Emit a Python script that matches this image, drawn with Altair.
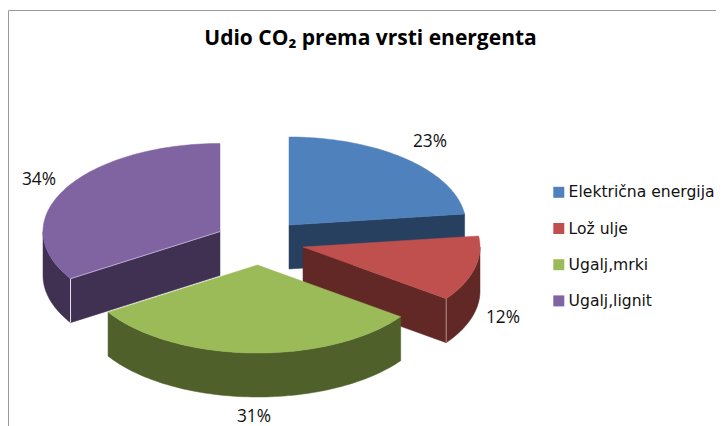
import math
import altair as alt
import pandas as pd

# ---- values ----
categories = ["Električna energija", "Lož ulje", "Ugalj,mrki", "Ugalj,lignit"]
shares = [23, 12, 31, 34]
title_text = "Udio CO₂ prema vrsti energenta"

# ---- styling / layout ----
top_colors = ["#4F81BD", "#C0504D", "#9BBB59", "#8064A2"]
side_colors = ["#27405F", "#622826", "#4F602B", "#403152"]
apexes = [(289, 225), (303, 247), (257.5, 265), (220, 231.5)]
label_pos = [(430, 142), (503, 318), (254, 417), (39, 180)]
RX, RY, DEPTH = 177, 88, 44
FONT = "Open Sans"
LEGEND_FONT = "DejaVu Sans"
W, H = 708, 418


def pt(c, deg, dz=0):
    a = math.radians(deg)
    return c[0] + RX * math.sin(a), c[1] - RY * math.cos(a) + dz


def arc(c, a0, a1, dz=0):
    n = max(2, int(abs(a1 - a0) / 1.5))
    return [pt(c, a0 + (a1 - a0) * k / n, dz) for k in range(n + 1)]


def frame(points):
    return pd.DataFrame([{"x": p[0], "y": p[1], "i": k} for k, p in enumerate(points)])


xs = alt.X("x:Q", axis=None, scale=alt.Scale(domain=[8, 8 + W], nice=False, zero=False))
ys = alt.Y("y:Q", axis=None, scale=alt.Scale(domain=[8 + H, 8], nice=False, zero=False))
fill_scale = alt.Scale(domain=categories, range=top_colors)
legend = alt.Legend(
    title=None, orient="none", legendX=543, legendY=176.5, symbolType="square",
    symbolSize=121, symbolStrokeWidth=0, labelFont=LEGEND_FONT, labelFontSize=15.6,
    labelColor="#111111", labelOffset=2, rowPadding=19.2, labelLimit=0,
)


def poly(points, color):
    return alt.Chart(frame(points)).mark_line(
        fill=color, stroke=color, strokeWidth=0.5, interpolate="linear", clip=True
    ).encode(x=xs, y=ys, order="i:Q")


def top(points, cat, color):
    d = frame(points)
    d["category"] = cat
    return alt.Chart(d).mark_line(
        stroke=color, strokeWidth=0.5, interpolate="linear", clip=True
    ).encode(x=xs, y=ys, order="i:Q",
             fill=alt.Fill("category:N", scale=fill_scale, legend=legend))


def edge(points, color):
    return alt.Chart(frame(points)).mark_line(
        stroke=color, strokeWidth=1, interpolate="linear"
    ).encode(x=xs, y=ys, order="i:Q")


# cumulative angles from the shares, clockwise from 12 o'clock
bounds = [0]
for s in shares:
    bounds.append(bounds[-1] + s * 3.6)

layers = []
# frame of the chart area
layers.append(edge([(8.5, 10.5), (724, 10.5)], "#9a9a9a"))
layers.append(edge([(8.5, 10.5), (8.5, 426)], "#9a9a9a"))

for idx in [0, 3, 1, 2]:  # back to front
    c = apexes[idx]
    a0, a1 = bounds[idx], bounds[idx + 1]
    # radial cut face that looks towards the viewer
    if idx in (0, 1):
        e = pt(c, a1)
        layers.append(poly([c, e, (e[0], e[1] + DEPTH), (c[0], c[1] + DEPTH), c], side_colors[idx]))
    if idx == 3:
        e = pt(c, a0)
        layers.append(poly([c, e, (e[0], e[1] + DEPTH), (c[0], c[1] + DEPTH), c], side_colors[idx]))
    # outer wall: the part of the rim on the near side
    w0, w1 = max(a0, 90), min(a1, 270)
    if w1 > w0:
        upper = arc(c, w0, w1)
        lower = arc(c, w1, w0, DEPTH)
        layers.append(poly(upper + lower + [upper[0]], side_colors[idx]))
    # top face
    layers.append(top([c] + arc(c, a0, a1) + [c], categories[idx], top_colors[idx]))
    # light highlights at the corners
    if idx == 3:
        e = pt(c, a0)
        layers.append(edge([(e[0], e[1]), (e[0], e[1] + DEPTH)], "#e8e4ee"))
        layers.append(edge([c, e], "#b9a9cf"))
    if idx == 1:
        e = pt(c, a1)
        layers.append(edge([(e[0], e[1]), (e[0], e[1] + DEPTH)], "#b98a88"))

labels = pd.DataFrame({
    "x": [p[0] for p in label_pos],
    "y": [p[1] for p in label_pos],
    "t": [f"{s}%" for s in shares],
})
layers.append(
    alt.Chart(labels).mark_text(font=FONT, fontSize=17.3, color="#111111", align="center", baseline="middle")
    .encode(x=xs, y=ys, text="t:N")
)

chart = alt.layer(*layers).properties(
    width=W, height=H, padding=0,
    autosize=alt.AutoSizeParams(type="none"),
    title=alt.TitleParams(
        text=title_text, font=FONT, fontSize=21, fontWeight="bold", color="#000000",
        anchor="middle", frame="group", dx=8.5, dy=41, offset=0,
    ),
).configure_view(stroke=None)

chart.save("out.html", embed_options={"renderer": "svg", "actions": False})
